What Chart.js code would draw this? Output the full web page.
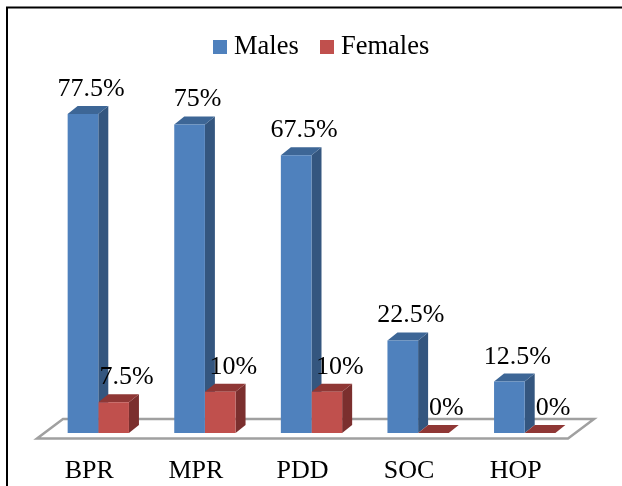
<!DOCTYPE html>
<html>
<head>
<meta charset="utf-8">
<script src="https://cdn.jsdelivr.net/npm/chart.js@4"></script>
<style>
  html, body { margin: 0; padding: 0; background: #fff; }
  canvas { display: block; }
</style>
</head>
<body>
<canvas id="graph" width="622" height="486"></canvas>
<script>
var categories = ['BPR', 'MPR', 'PDD', 'SOC', 'HOP']
var males = [77.5, 75, 67.5, 22.5, 12.5]
var females = [7.5, 10, 10, 0, 0]

var serif = '"Liberation Serif", "Times New Roman", serif'
var blue = { front: '#4f81bd', side: '#34567f', top: '#3d6696' }
var red = { front: '#c0504d', side: '#7b2f2e', top: '#8f3735' }
var depthX = 10
var depthY = 8

function legendSquare(color) {
  var c = document.createElement('canvas')
  c.width = 14
  c.height = 14
  var g = c.getContext('2d')
  g.fillStyle = color
  g.fillRect(0, 0, 14, 14)
  return c
}

/* frame and floor go under the bars, the 3d faces too */
var bars3d = {
  id: 'bars3d',
  afterLayout: function (chart) {
    // legend sits a bit right of the plot centre in the original
    chart.legend.left += 26
  },
  beforeDatasetsDraw: function (chart) {
    var ctx = chart.ctx
    var a = chart.chartArea
    ctx.save()
    ctx.strokeStyle = '#000'
    ctx.lineWidth = 2
    ctx.beginPath()
    ctx.moveTo(7, 486)
    ctx.lineTo(7, 7.5)
    ctx.lineTo(622, 7.5)
    ctx.stroke()

    var base = a.bottom
    ctx.strokeStyle = '#a0a0a0'
    ctx.lineWidth = 2.5
    ctx.beginPath()
    ctx.moveTo(a.left - 8, base + 5.5)
    ctx.lineTo(a.left + 18, base - 14)
    ctx.lineTo(a.right + 16, base - 14)
    ctx.lineTo(a.right - 10, base + 5.5)
    ctx.closePath()
    ctx.stroke()

    chart.data.datasets.forEach(function (ds, i) {
      var tones = i === 0 ? blue : red
      chart.getDatasetMeta(i).data.forEach(function (bar) {
        var p = bar.getProps(['x', 'y', 'base', 'width'], true)
        var l = p.x - p.width / 2
        var r = p.x + p.width / 2
        ctx.fillStyle = tones.side
        ctx.beginPath()
        ctx.moveTo(r, p.y)
        ctx.lineTo(r + depthX, p.y - depthY)
        ctx.lineTo(r + depthX, p.base - depthY)
        ctx.lineTo(r, p.base)
        ctx.closePath()
        ctx.fill()
        ctx.fillStyle = tones.top
        ctx.beginPath()
        ctx.moveTo(l, p.y)
        ctx.lineTo(l + depthX, p.y - depthY)
        ctx.lineTo(r + depthX, p.y - depthY)
        ctx.lineTo(r, p.y)
        ctx.closePath()
        ctx.fill()
      })
    })
    ctx.restore()
  },
  afterDatasetsDraw: function (chart) {
    var ctx = chart.ctx
    ctx.save()
    ctx.font = '26px ' + serif
    ctx.fillStyle = '#000'
    ctx.textAlign = 'center'
    ctx.textBaseline = 'alphabetic'
    chart.data.datasets.forEach(function (ds, i) {
      chart.getDatasetMeta(i).data.forEach(function (bar, j) {
        var shift = i === 0 ? 8 : 13
        ctx.fillText(ds.data[j] + '%', bar.x + shift, bar.y - 18)
      })
    })
    ctx.restore()
  }
}

var ctx = document.getElementById('graph').getContext('2d')

var data = {
  labels: categories,
  datasets: [
    { label: 'Males', data: males, backgroundColor: blue.front, borderWidth: 0 },
    { label: 'Females', data: females, backgroundColor: red.front, borderWidth: 0 }
  ]
}

var config = {
  type: 'bar',
  data: data,
  options: {
    responsive: false,
    animation: false,
    layout: { padding: { left: 45, right: 44, top: 6, bottom: 0 } },
    datasets: { bar: { categoryPercentage: 0.575, barPercentage: 1 } },
    scales: {
      x: {
        grid: { display: false, drawTicks: false },
        border: { display: false },
        afterFit: function (scale) { scale.height = 53 },
        ticks: {
          color: '#000',
          font: { family: serif, size: 26 },
          padding: 23,
          labelOffset: -9,
          maxRotation: 0,
          autoSkip: false
        }
      },
      y: { display: false, min: 0, max: 88.1 }
    },
    plugins: {
      tooltip: { enabled: false },
      legend: {
        position: 'top',
        align: 'center',
        labels: {
          color: '#000',
          font: { family: serif, size: 26.5 },
          usePointStyle: true,
          pointStyleWidth: 1,
          padding: 28,
          generateLabels: function (chart) {
            return chart.data.datasets.map(function (ds, i) {
              return {
                text: ds.label,
                datasetIndex: i,
                fontColor: '#000',
                pointStyle: legendSquare(ds.backgroundColor)
              }
            })
          }
        }
      }
    }
  },
  plugins: [bars3d]
}
var graph = new Chart(ctx, config)
</script>
</body>
</html>
